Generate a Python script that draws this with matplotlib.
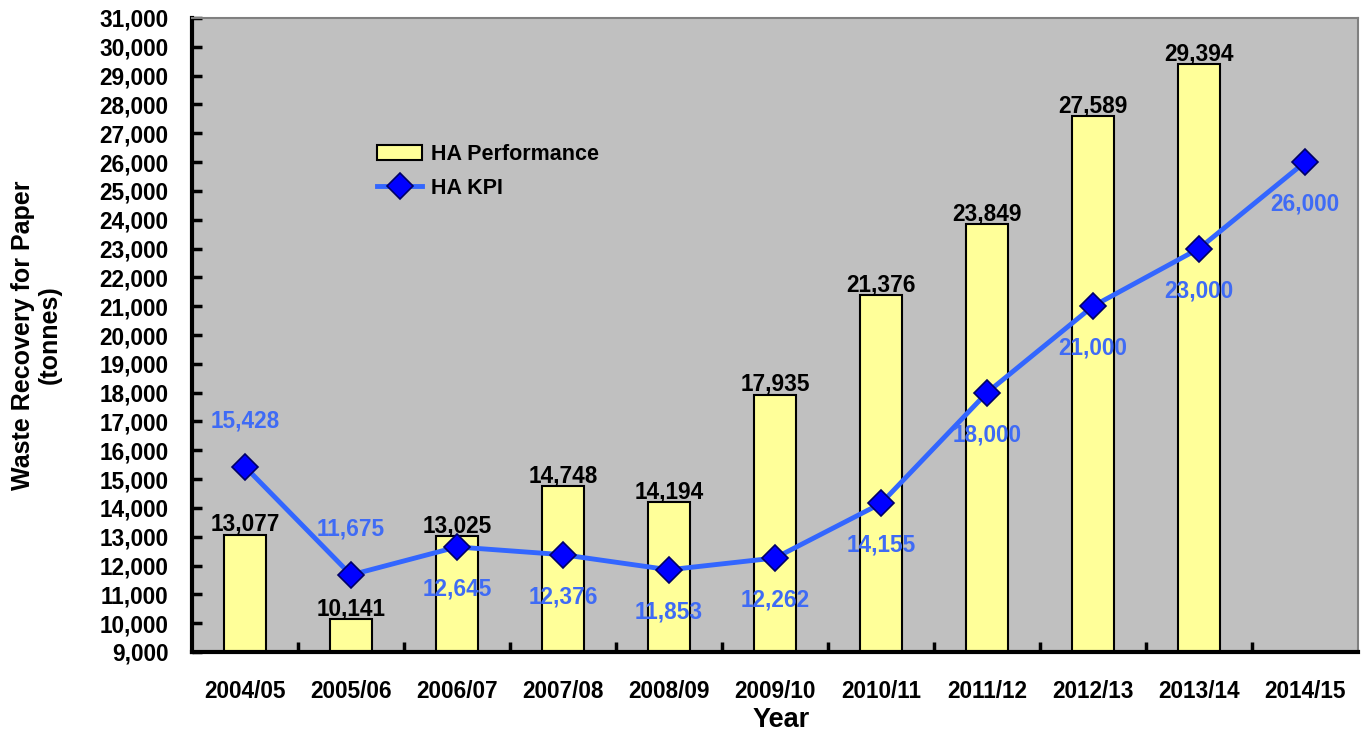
import matplotlib
matplotlib.use("Agg")
import matplotlib.pyplot as plt
import numpy as np

years = ["2004/05", "2005/06", "2006/07", "2007/08", "2008/09", "2009/10",
         "2010/11", "2011/12", "2012/13", "2013/14", "2014/15"]
performance = [13077, 10141, 13025, 14748, 14194, 17935, 21376, 23849, 27589, 29394]
kpi = [15428, 11675, 12645, 12376, 11853, 12262, 14155, 18000, 21000, 23000, 26000]
kpi_label_above = [True, True, False, False, False, False, False, False, False, False, False]

plt.rcParams['font.family'] = ['Liberation Sans', 'DejaVu Sans']
plt.rcParams['font.weight'] = 'bold'

FS = 16.3

fig = plt.figure(figsize=(13.64, 7.36), dpi=100)
ax = fig.add_axes([192/1364, 84/736, 1166/1364, 634/736])
ax.set_facecolor('#C0C0C0')

xb = np.arange(len(performance))
xk = np.arange(len(kpi))
bars = ax.bar(xb, performance, width=0.4, color='#FFFF99', edgecolor='black',
              linewidth=1.5, label='HA Performance', zorder=2)
line, = ax.plot(xk, kpi, color='#3366FF', linewidth=3.5, marker='D', markersize=13,
                markerfacecolor='#0000FF', markeredgecolor='#000066', markeredgewidth=1.2,
                label='HA KPI', zorder=3)

for x, v in zip(xb, performance):
    ax.annotate(f"{v:,}", (x, v), xytext=(0, -1), textcoords='offset pixels',
                ha='center', va='bottom', fontsize=FS, fontweight='bold', color='black', zorder=4)
for x, v, up in zip(xk, kpi, kpi_label_above):
    dy = 46 if up else -42
    ax.annotate(f"{v:,}", (x, v), xytext=(0, dy), textcoords='offset pixels',
                ha='center', va='center', fontsize=FS, fontweight='bold', color='#3F6BF5', zorder=4)

ax.set_xlim(-0.5, len(years) - 0.5)
ax.set_ylim(9000, 31000)
ax.set_yticks(np.arange(9000, 31001, 1000))
ax.set_yticklabels([f"{t:,}" for t in range(9000, 31001, 1000)])
ax.set_xticks(xk)
ax.set_xticklabels(years)
ax.set_xticks(np.arange(0.5, len(years) - 0.5, 1), minor=True)
ax.tick_params(axis='x', which='major', length=0, pad=20, labelsize=FS)
ax.tick_params(axis='x', which='minor', direction='in', length=7, width=2.5)
ax.tick_params(axis='y', direction='in', length=7, width=2.5, pad=17, labelsize=FS)
for lab in ax.get_xticklabels() + ax.get_yticklabels():
    lab.set_fontweight('bold')

for s in ['left', 'bottom']:
    ax.spines[s].set_linewidth(3)
    ax.spines[s].set_color('black')
for s in ['top', 'right']:
    ax.spines[s].set_linewidth(1.5)
    ax.spines[s].set_color('#808080')

leg = ax.legend(handles=[bars, line], loc='center left', bbox_to_anchor=(0.142, 0.758),
                frameon=False, handlelength=2.1, handletextpad=0.4, labelspacing=0.6,
                prop={'weight': 'bold', 'size': 15.5})

fig.text(781/1364, 1 - 720/736, "Year", ha='center', va='center', fontsize=19.5, fontweight='bold')
fig.text(36/1364, 1 - 335/736, "Waste Recovery for Paper\n(tonnes)", ha='center', va='center',
         rotation=90, fontsize=18, fontweight='bold', linespacing=1.15)

fig.savefig("out.png", dpi=100)
